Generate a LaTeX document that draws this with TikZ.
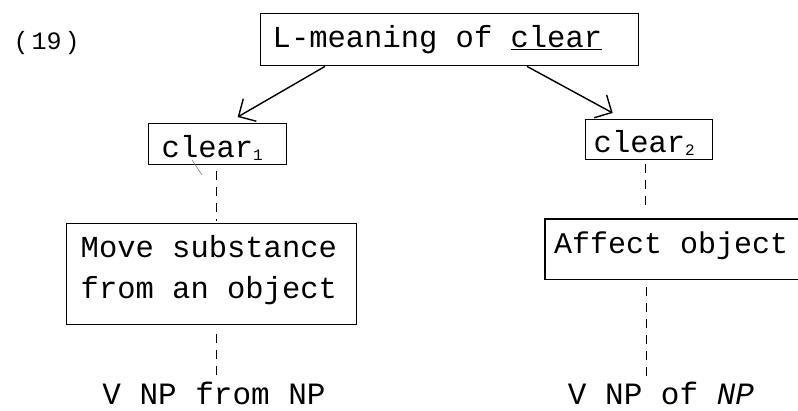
\documentclass[tikz,border=0pt]{standalone}
\usepackage{fontspec}
\setmainfont{Liberation Mono}
\usetikzlibrary{arrows.meta,calc}
\newcommand{\monosp}{\spaceskip=0.6em\relax\xspaceskip=0.6em\relax}
\begin{document}
\begin{tikzpicture}[x=1pt,y=-1pt,
  box/.style={draw, line width=1.4pt, inner sep=0pt, align=left,
              font=\fontsize{30.5}{41}\selectfont, anchor=north west},
  openbox/.style={inner sep=0pt, align=left, font=\fontsize{30}{41}\selectfont, anchor=north west},
  lbl/.style={font=\fontsize{31}{36}\selectfont, anchor=base},
  arr/.style={line width=1.4pt, -{Straight Barb[length=13pt,width=26pt]}},
  dashline/.style={line width=1.3pt, dash pattern=on 9pt off 7pt}
]
\useasboundingbox (0,0) rectangle (798,411);

\node[anchor=base west, font=\fontsize{25}{25}\selectfont] (num) at (10,50) {(\hspace{3pt}19\hspace{3pt})};

\node[box, minimum width=378pt, minimum height=52pt, inner xsep=12pt, text width=354pt,
      text height=34pt, text depth=18pt] (top) at (260,13) {\monosp L-meaning of \underline{clear}};

\node[box, minimum width=138pt, minimum height=41pt, inner xsep=13pt, text width=112pt,
      text height=34pt, text depth=7pt] (c1) at (148,123)
      {clear\raisebox{-3pt}{\fontsize{16}{16}\selectfont 1}};

\node[box, minimum width=127pt, minimum height=40pt, inner xsep=8pt, text width=111pt,
      text height=33pt, text depth=7pt] (c2) at (585,119)
      {clear\raisebox{-3pt}{\fontsize{16}{16}\selectfont 2}};

\node[box, minimum width=288pt, minimum height=101pt, inner xsep=14pt, text width=262pt,
      text height=34pt, text depth=67pt] (move) at (66,223)
      {\monosp Move substance\\\monosp from an object};

\node[openbox, minimum width=253pt, minimum height=60pt, inner xsep=9pt, text width=240pt,
      text height=34pt, text depth=26pt] (aff) at (545,219) {\monosp Affect object};
\draw[line width=1.4pt] (aff.north east) -- (aff.north west) -- (aff.south west) -- (aff.south east);

\node[lbl] (v1) at (214,405) {V NP from NP};
\node[lbl] (v2) at (661,405) {V NP of \textit{NP}};

\draw[arr] ($(top.south west)+(65,0)$) -- ($(c1.north)+(20,-6)$);
\draw[arr] ($(top.south west)+(267,0)$) -- ($(c2.north)+(-36.5,-6)$);

\draw[line width=0.6pt, gray] (192,160) -- (202,175);

\draw[dashline, shorten <=6pt, shorten >=2pt] ([xshift=-1pt]c1.south) -- ([xshift=-1pt]c1.south |- move.north);
\draw[dashline, shorten <=9pt] ([xshift=-1pt]c1.south |- move.south) -- ([xshift=-1pt]c1.south |- v1.north);
\draw[dashline, shorten <=4pt, shorten >=14pt] ([xshift=-4pt]c2.south) -- ([xshift=-4pt]c2.south |- aff.north);
\draw[dashline, shorten <=8pt] ([xshift=-3pt]c2.south |- aff.south) -- ([xshift=-3pt]c2.south |- v2.north);
\end{tikzpicture}
\end{document}
